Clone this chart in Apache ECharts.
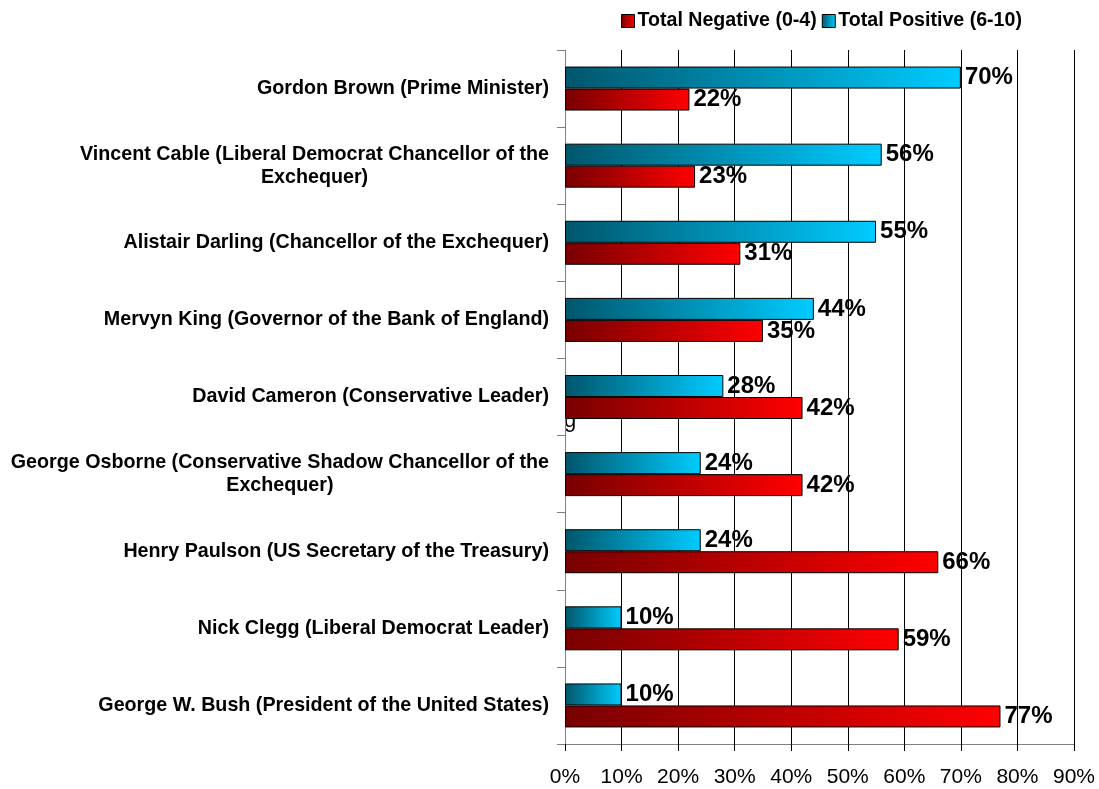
<!DOCTYPE html>
<html>
<head>
<meta charset="utf-8">
<script src="https://cdn.jsdelivr.net/npm/echarts@6/dist/echarts.min.js"></script>
<style>
  html, body { margin: 0; padding: 0; background: #fff; }
  #chart { width: 1099px; height: 789px; }
</style>
</head>
<body>
<div id="chart"></div>
<script>
const names = [
  'Gordon Brown (Prime Minister)',
  'Vincent Cable (Liberal Democrat Chancellor of the\nExchequer)',
  'Alistair Darling (Chancellor of the Exchequer)',
  'Mervyn King (Governor of the Bank of England)',
  'David Cameron (Conservative Leader)',
  'George Osborne (Conservative Shadow Chancellor of the\nExchequer)',
  'Henry Paulson (US Secretary of the Treasury)',
  'Nick Clegg (Liberal Democrat Leader)',
  'George W. Bush (President of the United States)'
]
const negative = [22, 23, 31, 35, 42, 42, 66, 59, 77]
const positive = [70, 56, 55, 44, 28, 24, 24, 10, 10]
const ticks = ['0%', '10%', '20%', '30%', '40%', '50%', '60%', '70%', '80%', '90%']

const font = 'Arial, "Liberation Sans", sans-serif'
const chart = echarts.init(document.querySelector('#chart'), null, { renderer: 'canvas' })

const grad = (a, b) => new echarts.graphic.LinearGradient(0, 0, 1, 0, [
  { offset: 0, color: a },
  { offset: 1, color: b }
])

const barLabel = {
  show: true,
  position: 'right',
  distance: 4,
  formatter: '{c}%',
  color: '#000',
  fontFamily: font,
  fontWeight: 'bold',
  fontSize: 24
}

const option = {
  animation: false,
  legend: {
    left: 616,
    top: 6,
    itemWidth: 13,
    itemHeight: 13,
    itemGap: 5,
    icon: 'rect',
    itemStyle: { borderColor: '#000', borderWidth: 1 },
    textStyle: { fontFamily: font, fontWeight: 'bold', fontSize: 19.6, color: '#000', padding: [0, 0, 0, -2] },
    data: ['Total Negative (0-4)', 'Total Positive (6-10)']
  },
  grid: { left: 565, right: 25, top: 50, bottom: 45 },
  xAxis: {
    type: 'value',
    min: 0,
    max: 90,
    interval: 10,
    axisLine: { show: true, lineStyle: { color: '#808080', width: 1 } },
    axisTick: { show: true, length: 7, lineStyle: { color: '#000' } },
    splitLine: { show: true, lineStyle: { color: '#000', width: 1 } },
    axisLabel: {
      margin: 23,
      color: '#000',
      fontFamily: font,
      fontSize: 21,
      formatter: (v) => ticks[Math.round(v / 10)]
    }
  },
  yAxis: {
    type: 'category',
    inverse: true,
    data: names,
    axisLine: { show: true, lineStyle: { color: '#808080', width: 1 } },
    axisTick: { show: true, length: 8, lineStyle: { color: '#808080' } },
    axisLabel: {
      margin: 16,
      align: 'right',
      formatter: (v) => v.split('\n').map(l => '{c|' + l + '}').join('\n'),
      rich: {
        c: {
          align: 'center',
          color: '#000',
          fontFamily: font,
          fontWeight: 'bold',
          fontSize: 19.7,
          lineHeight: 23
        }
      }
    }
  },
  series: [
    {
      name: 'Total Positive (6-10)',
      type: 'bar',
      data: positive,
      barWidth: 22,
      barGap: '0%',
      itemStyle: { color: grad('#00566c', '#00ccff'), borderColor: '#000', borderWidth: 1 },
      label: barLabel
    },
    {
      name: 'Total Negative (0-4)',
      type: 'bar',
      data: negative,
      barWidth: 22,
      barGap: '0%',
      itemStyle: { color: grad('#780000', '#ff0000'), borderColor: '#000', borderWidth: 1 },
      label: barLabel
    }
  ],
  graphic: [
    {
      type: 'text',
      left: 564,
      top: 410,
      style: { text: 'g', font: '22px ' + font, fill: '#000' }
    }
  ]
}
chart.setOption(option)
</script>
</body>
</html>
